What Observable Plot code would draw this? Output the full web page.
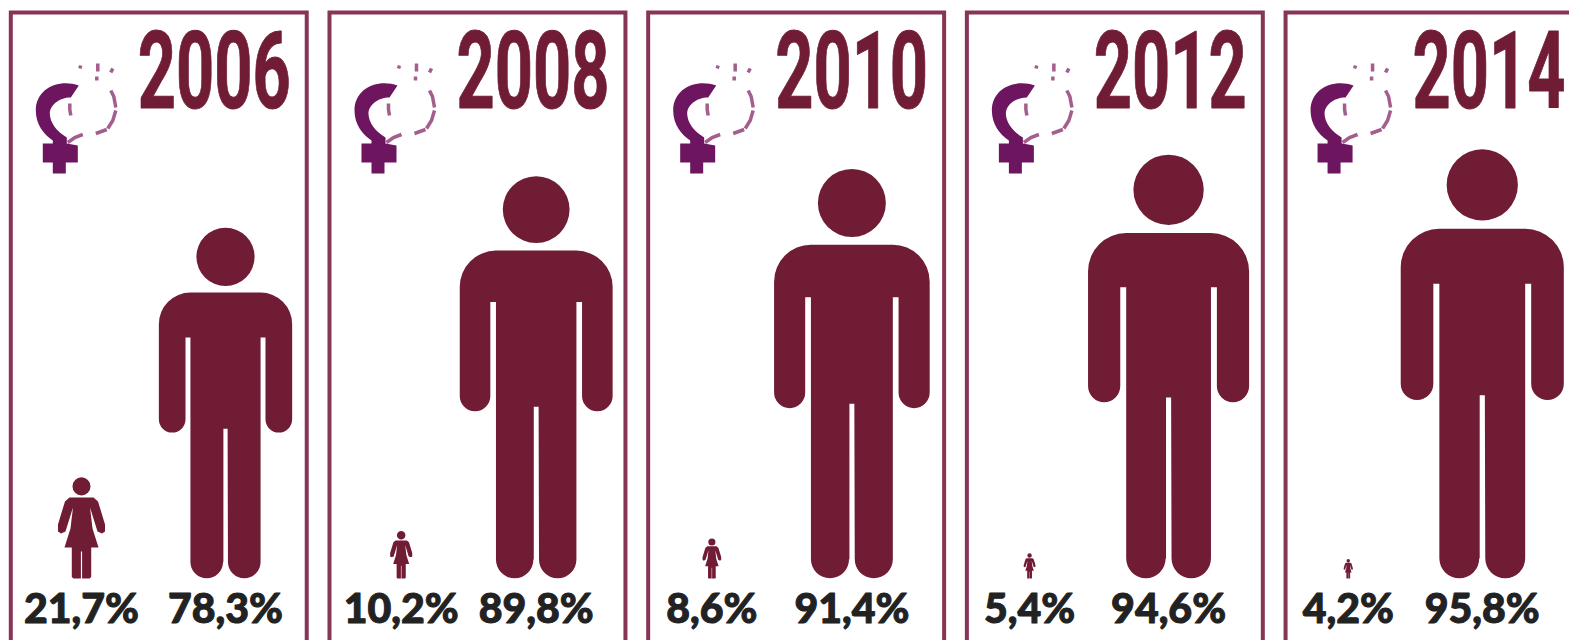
<!DOCTYPE html>
<html><head><meta charset="utf-8">
<style>html,body{margin:0;padding:0;background:#fff;overflow:hidden}</style>
<script src="https://cdn.jsdelivr.net/npm/d3@7"></script>
<script src="https://cdn.jsdelivr.net/npm/@observablehq/plot@0.6"></script>
</head><body><div id="chart"></div>
<script>
const years = [2006, 2008, 2010, 2012, 2014];
const womenShare = [21.7, 10.2, 8.6, 5.4, 4.2];
const menShare = [78.3, 89.8, 91.4, 94.6, 95.8];
const pct = v => v.toFixed(1).replace(".", ",") + "%";

const women = years.map((year, i) => ({year, sex: "women", value: womenShare[i], label: pct(womenShare[i])}));
const men = years.map((year, i) => ({year, sex: "men", value: menShare[i], label: pct(menShare[i])}));

const manSymbol = {draw(ctx, size) {
  const h = Math.sqrt(size / Math.PI), X = u => u * h, Y = v => -v * h;
  ctx.moveTo(X(.083), Y(.917));
  ctx.arc(0, Y(.917), .083 * h, 0, 2 * Math.PI);
  ctx.closePath();
  ctx.moveTo(X(-.10), Y(.815));
  ctx.lineTo(X(.10), Y(.815));
  ctx.arcTo(X(.19), Y(.815), X(.19), Y(.725), .09 * h);
  ctx.lineTo(X(.19), Y(.454));
  ctx.arc(X(.152), Y(.454), .038 * h, 0, Math.PI);
  ctx.lineTo(X(.114), Y(.687));
  ctx.lineTo(X(.10), Y(.687));
  ctx.lineTo(X(.10), Y(.047));
  ctx.arc(X(.0535), Y(.047), .0465 * h, 0, Math.PI);
  ctx.lineTo(X(.006), Y(.427));
  ctx.lineTo(X(-.006), Y(.427));
  ctx.lineTo(X(-.006), Y(.047));
  ctx.arc(X(-.0535), Y(.047), .0465 * h, 0, Math.PI);
  ctx.lineTo(X(-.10), Y(.687));
  ctx.lineTo(X(-.114), Y(.687));
  ctx.lineTo(X(-.114), Y(.454));
  ctx.arc(X(-.152), Y(.454), .038 * h, 0, Math.PI);
  ctx.lineTo(X(-.19), Y(.725));
  ctx.arcTo(X(-.19), Y(.815), X(-.10), Y(.815), .09 * h);
  ctx.closePath();
}};

const womanSymbol = {draw(ctx, size) {
  const h = 1.03 * Math.sqrt(size / Math.PI), X = u => u * h, Y = v => -v * h;
  ctx.moveTo(X(.09), Y(.92));
  ctx.arc(0, Y(.92), .09 * h, 0, 2 * Math.PI);
  ctx.closePath();
  const half = [[.12,.81],[.165,.77],[.235,.54],[.235,.47],[.205,.45],[.16,.47],[.085,.71],[.11,.5],[.17,.31],[.097,.31],[.097,.015],[.08,0],[.006,0],[.006,.27]];
  half.forEach(([u, v], i) => i ? ctx.lineTo(X(u), Y(v)) : ctx.moveTo(X(u), Y(v)));
  half.slice().reverse().forEach(([u, v]) => ctx.lineTo(X(-u), Y(v)));
  ctx.closePath();
}};

// Venus sign: drawn in the panel's own pixel frame
const venusSolid = {draw(ctx) {
  ctx.moveTo(68, 73);
  ctx.bezierCurveTo(48, 66, 25, 76, 25, 98);
  ctx.bezierCurveTo(25, 112, 33, 122, 42, 128);
  ctx.lineTo(42, 131);
  ctx.lineTo(32, 131);
  ctx.lineTo(32, 150);
  ctx.lineTo(42, 150);
  ctx.lineTo(42, 161);
  ctx.lineTo(55, 161);
  ctx.lineTo(55, 150);
  ctx.lineTo(67, 150);
  ctx.lineTo(67, 133);
  ctx.lineTo(56, 131);
  ctx.lineTo(56, 125);
  ctx.bezierCurveTo(46, 119, 39, 110, 39, 101);
  ctx.bezierCurveTo(39, 93, 48, 85, 60, 85);
  ctx.closePath();
}};
const venusDashes = {draw(ctx) {
  const parts = [[[70,53],[69,56]],[[87,51],[87,59]],[[86,64],[86,68]],[[102,56],[100,60]],[[100,78],[103,84],[105,95]],[[105,98],[102,108],[97,116]],[[96,117],[85,121]],[[72,122],[64,125],[57,130]],[[59,91],[59,97],[60,103]]];
  for (const p of parts) p.forEach(([x, y], i) => i ? ctx.lineTo(x, y) : ctx.moveTo(x, y));
}};

const wine = "#701c35", frame = "#873556", ink = "#222";
const womanNudge = [0, 1, -7, -8, -8];
const manNudge = [0, -8, -11, -13, -18];

const labelOpts = {y: 0, dy: 44, lineAnchor: "bottom", fill: ink, stroke: ink, strokeWidth: 1,
  fontFamily: "Lato", fontWeight: 900, fontSize: 41};

const chart = Plot.plot({
  width: 1569, height: 640,
  marginLeft: 10.3, marginRight: -12, marginTop: 12, marginBottom: 0,
  fx: {domain: years, paddingInner: .0714, paddingOuter: 0, round: false, axis: null, label: null},
  x: {type: "point", padding: 0, domain: ["women", "men"], range: [81.3, 225.3], axis: null},
  y: {domain: [0, 100], range: [578, 130], axis: null},
  r: {type: "linear", domain: [0, 100], range: [0, 448]},
  marks: [
    Plot.frame({stroke: frame, strokeWidth: 4, insetBottom: -10}),
    Plot.dot(years, {fx: d => d, frameAnchor: "top-left", symbol: venusSolid, r: 1, fill: "#6e1560", stroke: "none"}),
    Plot.dot(years, {fx: d => d, frameAnchor: "top-left", symbol: venusDashes, r: 1, fill: "none", stroke: "#a45e8e", strokeWidth: 3.5}),
    Plot.text(years, {fx: d => d, text: d => String(d), frameAnchor: "top-right", dx: -16, dy: 20, lineAnchor: "top",
      fill: wine, stroke: wine, strokeWidth: 1, fontFamily: "Roboto", fontWeight: 700, fontSize: 107, className: "yr"}),
    ...years.flatMap((year, i) => [
      Plot.dot(women.filter(d => d.year === year), {fx: "year", x: "sex", y: 0, r: "value", dx: womanNudge[i], symbol: womanSymbol, fill: wine, stroke: "none"}),
      Plot.dot(men.filter(d => d.year === year), {fx: "year", x: "sex", y: 0, r: "value", dx: manNudge[i], symbol: manSymbol, fill: wine, stroke: "none"}),
      Plot.text(women.filter(d => d.year === year), {fx: "year", x: "sex", text: "label", dx: womanNudge[i], ...labelOpts}),
      Plot.text(men.filter(d => d.year === year), {fx: "year", x: "sex", text: "label", dx: manNudge[i], ...labelOpts})
    ])
  ]
});
document.getElementById("chart").append(chart);
// Years are drawn in a much narrower condensed cut than any installed font: squeeze each about its anchor
chart.querySelectorAll(".yr text").forEach(t => {
  const k = 153 / t.getComputedTextLength();
  const x = +t.getAttribute("x") || 0, y = +t.getAttribute("y") || 0;
  t.setAttribute("transform", `${t.getAttribute("transform") || ""} translate(${x},${y}) scale(${k},1) translate(${-x},${-y})`);
});
</script>
</body></html>
